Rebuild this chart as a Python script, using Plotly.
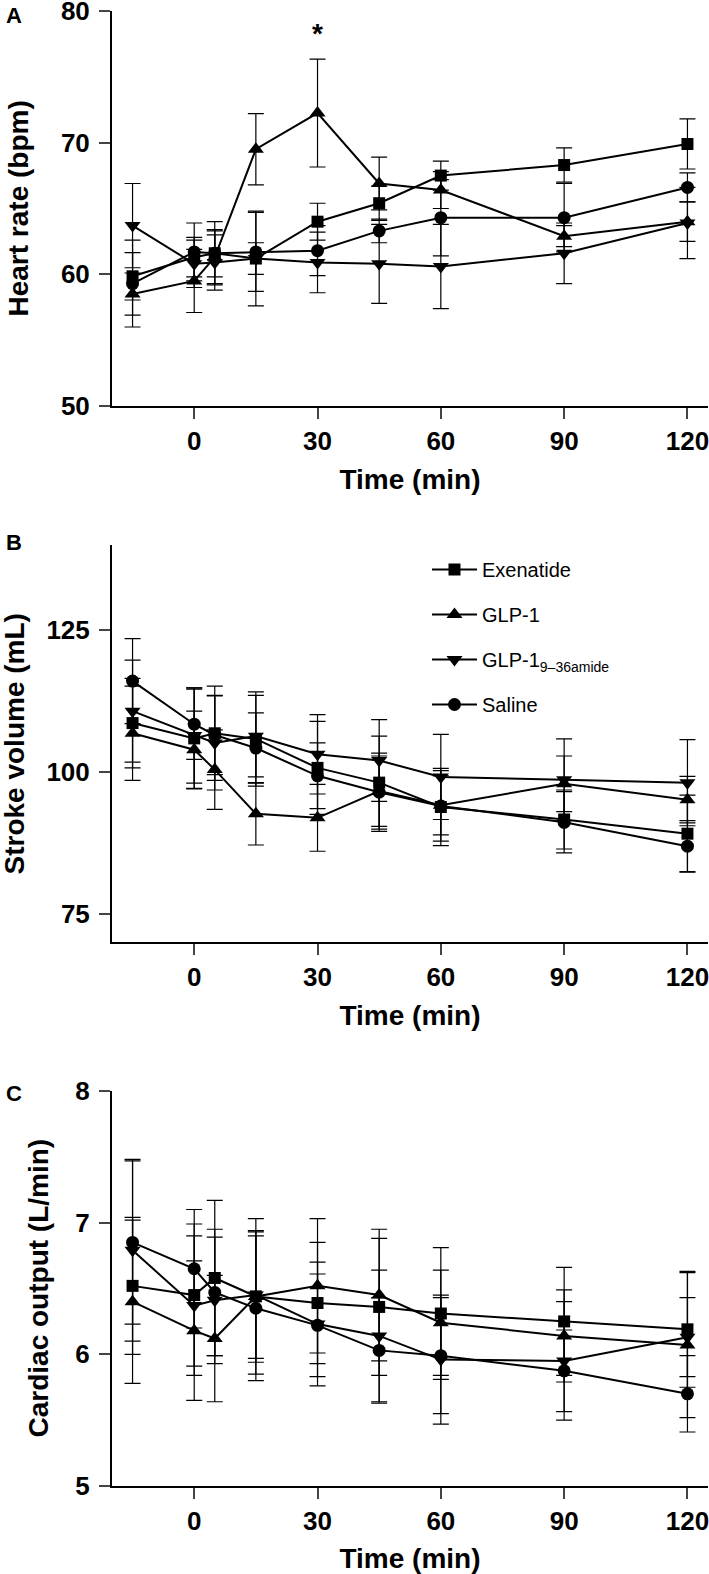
import plotly.graph_objects as go

# ---------------- data ----------------
time = [-15, 0, 5, 15, 30, 45, 60, 90, 120]
groups = ["Exenatide", "GLP-1", "GLP-1<sub>9–36amide</sub>", "Saline"]

# Panel A: heart rate (bpm)
hr_exenatide = [59.85, 61.3, 61.6, 61.2, 64.0, 65.4, 67.5, 68.3, 69.9]
hr_glp1 = [58.5, 59.5, 61.3, 69.5, 72.25, 66.9, 66.4, 62.9, 64.0]
hr_glp1_936 = [63.7, 60.8, 60.9, 61.2, 60.9, 60.8, 60.6, 61.6, 63.9]
hr_saline = [59.3, 61.7, 61.6, 61.7, 61.8, 63.3, 64.3, 64.3, 66.6]
hr_exenatide_sem = [1.8, 1.5, 2.4, 3.6, 1.4, 1.3, 1.1, 1.3, 1.9]
hr_glp1_sem = [1.6, 2.4, 2.0, 2.7, 4.1, 2.0, 1.4, 0.8, 1.5]
hr_glp1_936_sem = [3.2, 1.8, 2.1, 1.2, 2.3, 3.0, 3.2, 2.3, 2.7]
hr_saline_sem = [3.3, 2.2, 1.8, 3.0, 1.9, 0.9, 2.9, 2.6, 1.1]

# Panel B: stroke volume (mL)
sv_exenatide = [108.6, 105.9, 106.8, 105.8, 100.7, 98.1, 93.8, 91.6, 89.1]
sv_glp1 = [106.8, 103.9, 100.4, 92.6, 91.9, 96.6, 94.1, 97.9, 95.1]
sv_glp1_936 = [110.7, 106.4, 105.1, 106.3, 103.1, 102.0, 99.1, 98.6, 98.1]
sv_saline = [116.0, 108.4, 106.5, 104.2, 99.3, 96.4, 94.0, 91.1, 86.9]
sv_exenatide_sem = [7.9, 8.9, 8.3, 8.3, 8.2, 8.2, 6.8, 5.2, 6.8]
sv_glp1_sem = [8.3, 6.8, 7.0, 5.5, 5.9, 6.2, 5.2, 4.9, 4.1]
sv_glp1_936_sem = [9.0, 8.4, 8.3, 7.2, 7.0, 7.2, 7.5, 7.2, 7.6]
sv_saline_sem = [7.5, 6.2, 7.0, 6.2, 5.8, 6.9, 6.2, 5.4, 4.5]

# Panel C: cardiac output (L/min)
co_exenatide = [6.52, 6.45, 6.58, 6.44, 6.39, 6.36, 6.31, 6.25, 6.19]
co_glp1 = [6.40, 6.18, 6.12, 6.44, 6.52, 6.45, 6.24, 6.14, 6.07]
co_glp1_936 = [6.79, 6.37, 6.41, 6.45, 6.23, 6.14, 5.96, 5.95, 6.13]
co_saline = [6.85, 6.65, 6.47, 6.35, 6.22, 6.03, 5.99, 5.875, 5.70]
co_exenatide_sem = [0.52, 0.54, 0.59, 0.59, 0.46, 0.52, 0.50, 0.41, 0.44]
co_glp1_sem = [0.62, 0.53, 0.48, 0.50, 0.51, 0.50, 0.40, 0.35, 0.55]
co_glp1_936_sem = [0.69, 0.53, 0.48, 0.48, 0.47, 0.50, 0.49, 0.45, 0.30]
co_saline_sem = [0.62, 0.45, 0.48, 0.55, 0.39, 0.40, 0.44, 0.31, 0.29]

x_ticks = [0, 30, 60, 90, 120]
hr_ticks = [50, 60, 70, 80]
sv_ticks = [75, 100, 125]
co_ticks = [5, 6, 7, 8]

# ---------------- styling ----------------
symbols = ["square", "triangle-up", "triangle-down", "circle"]
sizes = [12, 14, 14, 13]
W, H = 709, 1574
ML = 112

def py(pix):
    return 1 - pix / H

panels = [
    dict(vals=[hr_exenatide, hr_glp1, hr_glp1_936, hr_saline],
         sems=[hr_exenatide_sem, hr_glp1_sem, hr_glp1_936_sem, hr_saline_sem],
         yr=[50, 80], ticks=hr_ticks, top=11, bot=406,
         title="Heart rate (bpm)", legend=False),
    dict(vals=[sv_exenatide, sv_glp1, sv_glp1_936, sv_saline],
         sems=[sv_exenatide_sem, sv_glp1_sem, sv_glp1_936_sem, sv_saline_sem],
         yr=[70, 140], ticks=sv_ticks, top=545, bot=942,
         title="Stroke volume (mL)", legend=True),
    dict(vals=[co_exenatide, co_glp1, co_glp1_936, co_saline],
         sems=[co_exenatide_sem, co_glp1_sem, co_glp1_936_sem, co_saline_sem],
         yr=[5, 8], ticks=co_ticks, top=1091, bot=1486,
         title="Cardiac output (L/min)", legend=False),
]

fig = go.Figure()
tick_font = dict(family="Liberation Sans, Arial", size=26, color="black", weight="bold")
title_font = dict(family="Liberation Sans, Arial", size=28, color="black", weight="bold")

layout = {}
for p_i, p in enumerate(panels):
    n = p_i + 1
    xa = "x" if n == 1 else f"x{n}"
    ya = "y" if n == 1 else f"y{n}"
    for g_i in range(4):
        fig.add_trace(go.Scatter(
            x=time, y=p["vals"][g_i], xaxis=xa, yaxis=ya,
            mode="lines+markers", name=groups[g_i],
            legendgroup=f"g{g_i}", showlegend=p["legend"],
            line=dict(color="black", width=2),
            marker=dict(symbol=symbols[g_i], size=sizes[g_i], color="black",
                        line=dict(width=0)),
            error_y=dict(type="data", array=p["sems"][g_i], visible=True,
                         color="black", thickness=1.2, width=8),
        ))
    layout[f"xaxis{'' if n == 1 else n}"] = dict(
        domain=[0, 1], range=[-20, 125], anchor=ya,
        tickvals=x_ticks, ticks="outside", ticklen=11, tickwidth=2,
        showline=True, linewidth=2, linecolor="black", showgrid=False,
        zeroline=False, tickfont=tick_font, automargin=False,
        ticklabeloverflow="allow",
        title=dict(text="Time (min)", font=title_font, standoff=14),
    )
    layout[f"yaxis{'' if n == 1 else n}"] = dict(
        domain=[py(p["bot"]), py(p["top"])], range=p["yr"], anchor=xa,
        tickvals=p["ticks"], ticks="outside", ticklen=11, tickwidth=2,
        showline=True, linewidth=2, linecolor="black", showgrid=False,
        zeroline=False, tickfont=tick_font, automargin=False,
        ticklabelstandoff=4, ticklabeloverflow="allow",
    )

fig.update_layout(**layout)

annotations = []
# y-axis titles
for p, xc in zip(panels, [18, 14, 38]):
    annotations.append(dict(
        text=p["title"], textangle=-90, xref="paper", yref="paper",
        x=(xc - ML) / (W - ML - 1), y=(py(p["top"]) + py(p["bot"])) / 2,
        xanchor="center", yanchor="middle", showarrow=False, font=title_font,
    ))
# panel letters
for lab, yc in zip(["A", "B", "C"], [16, 543, 1093]):
    annotations.append(dict(
        text=lab, xref="paper", yref="paper", x=(14 - ML) / (W - ML - 1), y=py(yc),
        xanchor="center", yanchor="middle", showarrow=False,
        font=dict(family="Liberation Sans, Arial", size=22, color="black", weight="bold"),
    ))
# significance marker
annotations.append(dict(text="*", x=30, y=78.3, xref="x", yref="y", showarrow=False,
                        xanchor="center", yanchor="middle",
                        font=dict(family="Liberation Sans, Arial", size=28, color="black",
                                  weight="bold")))

fig.update_layout(
    width=W, height=H,
    margin=dict(l=ML, r=1, t=0, b=0),
    paper_bgcolor="white", plot_bgcolor="white",
    annotations=annotations,
    legend=dict(x=(427 - ML) / (W - ML - 1), y=py(550), xanchor="left", yanchor="top",
                font=dict(family="Liberation Sans, Arial", size=20, color="black"),
                tracegroupgap=16, itemwidth=45, bgcolor="rgba(0,0,0,0)"),
)

fig.write_html(
    "out.html",
    config={"displayModeBar": False},
    post_script="document.body.style.margin='0';document.body.style.overflow='hidden';",
)
